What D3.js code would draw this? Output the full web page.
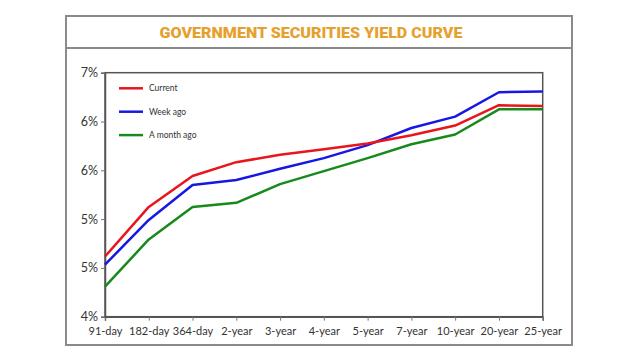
<!DOCTYPE html>
<html><head><meta charset="utf-8">
<script src="https://cdn.jsdelivr.net/npm/d3@7"></script>
<style>
html,body{margin:0;padding:0;background:#fff;}
svg{display:block;}
</style></head>
<body>
<svg id="chart" width="640" height="360"></svg>
<script>
const title = "GOVERNMENT SECURITIES YIELD CURVE";
const categories = ["91-day","182-day","364-day","2-year","3-year","4-year","5-year","7-year","10-year","20-year","25-year"];
const seriesNames = ["Current","Week ago","A month ago"];
const currentValues = [4.74,5.35,5.73,5.90,5.99,6.06,6.13,6.23,6.35,6.60,6.59];
const weekAgoValues = [4.64,5.19,5.62,5.68,5.82,5.95,6.11,6.32,6.46,6.76,6.77];
const monthAgoValues = [4.37,4.95,5.35,5.40,5.63,5.79,5.95,6.12,6.24,6.55,6.55];
const yTicks = [4,4.6,5.2,5.8,6.4,7];
const colors = ["#e8161c","#1717e3","#188a1b"];

const series = [currentValues, weekAgoValues, monthAgoValues];
const svg = d3.select("#chart");

// outer frame
const frameG = svg.append("g").attr("stroke","#8a8a8a").attr("stroke-width",2).attr("fill","none");
frameG.append("path").attr("d","M66,16 H572 V345 H66 Z");
frameG.append("line").attr("x1",66).attr("x2",572).attr("y1",48).attr("y2",48);

svg.append("text").attr("x",311).attr("y",38.3).attr("text-anchor","middle")
  .attr("font-family","Roboto").attr("font-weight",900).attr("font-size",15.5)
  .attr("fill","#e6a02e").attr("textLength",303).attr("lengthAdjust","spacingAndGlyphs")
  .text(title);

const L=105, R=542.7, T=72.7, B=316.7;
const x = d3.scalePoint().domain(categories).range([L,R]).padding(0);
const y = d3.scaleLinear().domain([4,7]).range([B,T]);

// plot box
svg.append("rect").attr("x",L).attr("y",T).attr("width",R-L).attr("height",B-T)
  .attr("fill","none").attr("stroke","#555").attr("stroke-width",1.5);

const xAxis = svg.append("g").attr("transform",`translate(0,${B})`)
  .call(d3.axisBottom(x).tickSize(4).tickPadding(7));
xAxis.select(".domain").attr("stroke","#555").attr("stroke-width",1.5);
xAxis.selectAll(".tick line").attr("stroke","#777");
xAxis.selectAll("text").attr("font-family","Lato").attr("font-size",11).attr("fill","#333");

const yAxis = svg.append("g").attr("transform",`translate(${L},0)`)
  .call(d3.axisLeft(y).tickValues(yTicks).tickFormat(v=>d3.format(".0%")(v/100)).tickSize(4).tickPadding(3));
yAxis.select(".domain").attr("stroke","#555").attr("stroke-width",1.5);
yAxis.selectAll(".tick line").attr("stroke","#777");
yAxis.selectAll("text").attr("font-family","Lato").attr("font-size",12.5).attr("fill","#333");

const line = d3.line().x((d,i)=>x(categories[i])).y(d=>y(d));
// draw month, week, current so current sits on top
[2,1,0].forEach(k=>{
  svg.append("path").datum(series[k]).attr("d",line)
    .attr("fill","none").attr("stroke",colors[k]).attr("stroke-width",2.5)
    .attr("stroke-linejoin","round");
});

// legend
const lg = svg.append("g");
seriesNames.forEach((n,i)=>{
  const yy = 88.3 + i*23.4;
  lg.append("line").attr("x1",119).attr("x2",143).attr("y1",yy).attr("y2",yy)
    .attr("stroke",colors[i]).attr("stroke-width",2.5);
  lg.append("text").attr("x",149).attr("y",yy+3).attr("font-family","Lato")
    .attr("font-size",8.5).attr("fill","#333").text(n);
});
</script>
</body></html>
